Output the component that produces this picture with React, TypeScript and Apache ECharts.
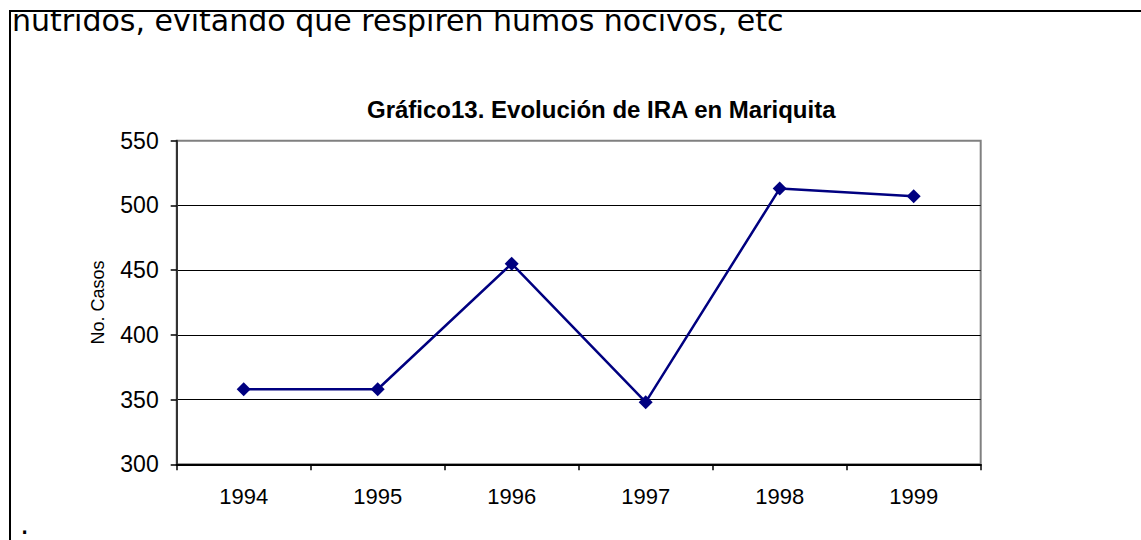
import React, { useEffect, useRef } from "react";
import * as echarts from "echarts";

const years = ["1994", "1995", "1996", "1997", "1998", "1999"];
const casos = [358, 358, 455, 348, 513, 507];
const yMin = 300;
const yMax = 550;
const yInterval = 50;
const chartTitle = "Gráfico13. Evolución de IRA en Mariquita";
const yName = "No. Casos";
const bodyText = "nutridos, evitando que respiren humos nocivos, etc";
const dotText = ".";

export default function App() {
  const ref = useRef<HTMLDivElement>(null);
  useEffect(() => {
    const chart = echarts.init(ref.current!, null, { renderer: "svg" });
    const font = "Liberation Sans, Arial, sans-serif";
    chart.setOption({
      animation: false,
      backgroundColor: "#ffffff",
      title: {
        text: chartTitle,
        left: 367,
        top: 97,
        padding: 0,
        textStyle: { fontFamily: font, fontWeight: "bold", fontSize: 24, color: "#000" },
      },
      grid: {
        left: 176.7,
        right: 160.3,
        top: 140.7,
        bottom: 75.7,
        show: true,
        borderColor: "#808080",
        borderWidth: 2,
        backgroundColor: "#ffffff",
      },
      xAxis: {
        type: "category",
        data: years,
        boundaryGap: true,
        axisLine: { lineStyle: { color: "#000", width: 2 } },
        axisTick: { show: true, length: 6, lineStyle: { color: "#000", width: 1.5 } },
        axisLabel: { margin: 21, fontSize: 22, fontFamily: font, color: "#000" },
        splitLine: { show: false },
      },
      yAxis: {
        type: "value",
        min: yMin,
        max: yMax,
        interval: yInterval,
        name: yName,
        nameLocation: "middle",
        nameGap: 70,
        nameRotate: 90,
        nameTextStyle: { fontSize: 18, fontFamily: font, color: "#000" },
        axisLine: { show: true, lineStyle: { color: "#333", width: 2 } },
        axisTick: { show: true, length: 6, lineStyle: { color: "#000", width: 1.5 } },
        axisLabel: { margin: 18, fontSize: 23, fontFamily: font, color: "#000" },
        splitLine: { show: true, showMaxLine: false, lineStyle: { color: "#000", width: 1 } },
      },
      series: [
        {
          type: "line",
          data: casos,
          symbol: "diamond",
          symbolSize: 14,
          lineStyle: { color: "#000080", width: 2.5 },
          itemStyle: { color: "#000080" },
          z: 5,
        },
      ],
      graphic: [
        {
          type: "text",
          x: 12,
          y: 20,
          z: 10,
          style: {
            text: bodyText,
            fontFamily: "DejaVu Sans",
            fontSize: 30,
            fill: "#000",
            verticalAlign: "middle",
            align: "left",
          },
        },
        {
          type: "rect",
          z: 50,
          shape: { x: 0, y: 0, width: 1141, height: 10 },
          style: { fill: "#ffffff" },
        },
        {
          type: "line",
          z: 60,
          shape: { x1: 9, y1: 11, x2: 1141, y2: 11 },
          style: { stroke: "#000", lineWidth: 2 },
        },
        {
          type: "line",
          z: 60,
          shape: { x1: 10, y1: 10, x2: 10, y2: 540 },
          style: { stroke: "#000", lineWidth: 2 },
        },
        {
          type: "text",
          x: 20,
          y: 524,
          z: 10,
          style: {
            text: dotText,
            fontFamily: "DejaVu Sans",
            fontSize: 29,
            fill: "#000",
            verticalAlign: "middle",
            align: "left",
          },
        },
      ],
    });
    return () => chart.dispose();
  }, []);
  return (
    <div
      ref={ref}
      style={{ position: "fixed", left: 0, top: 0, width: 1141, height: 540 }}
    />
  );
}
